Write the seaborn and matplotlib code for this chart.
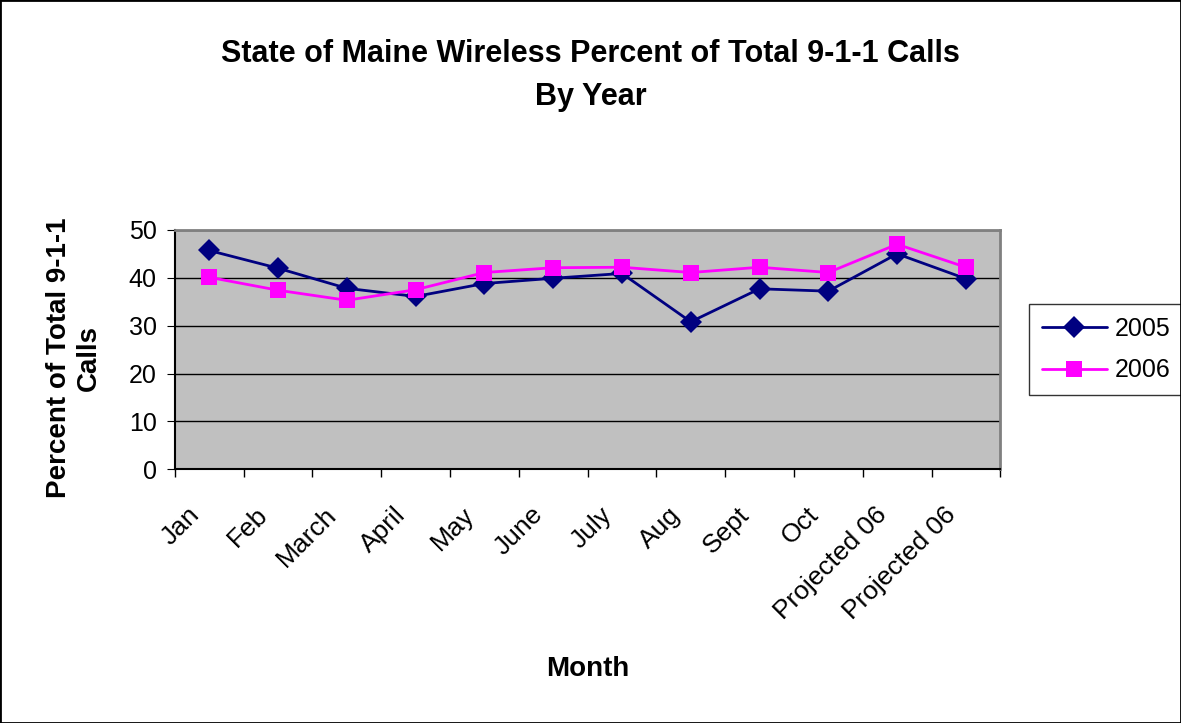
import seaborn as sns
import matplotlib.pyplot as plt
import pandas as pd
from matplotlib.patches import Rectangle
from matplotlib.transforms import ScaledTranslation

months = ['Jan', 'Feb', 'March', 'April', 'May', 'June', 'July', 'Aug',
          'Sept', 'Oct', 'Projected 06', 'Projected 06']
calls_2005 = [45.7, 42.0, 37.8, 36.1, 38.8, 39.9, 40.9, 30.8, 37.7, 37.2, 45.0, 39.8]
calls_2006 = [40.1, 37.4, 35.3, 37.5, 41.1, 42.1, 42.2, 41.1, 42.2, 41.1, 47.0, 42.2]

df = pd.DataFrame({
    'pos': list(range(len(months))) * 2,
    'value': calls_2005 + calls_2006,
    'year': ['2005'] * len(months) + ['2006'] * len(months),
})

sns.set_style('white')
plt.rcParams['font.family'] = ['Liberation Sans', 'DejaVu Sans']
plt.rcParams['text.color'] = 'black'
plt.rcParams['axes.labelcolor'] = 'black'
plt.rcParams['xtick.color'] = 'black'
plt.rcParams['ytick.color'] = 'black'

fig = plt.figure(figsize=(11.81, 7.23), dpi=100)
ax = fig.add_axes([0.148, 0.351, 0.699, 0.331])
ax.set_facecolor('#C0C0C0')

sns.lineplot(data=df, x='pos', y='value', hue='year', style='year',
             palette={'2005': '#000080', '2006': '#FF00FF'},
             markers={'2005': 'D', '2006': 's'}, dashes=False,
             markersize=11, linewidth=2, markeredgewidth=0, ax=ax)

ax.set_xlim(-0.5, len(months) - 0.5)
ax.set_ylim(0, 50)
ax.set_yticks(range(0, 51, 10))
ax.yaxis.grid(True, color='black', linewidth=1)
ax.set_axisbelow(True)

# ticks on category boundaries, labels at centers
ax.set_xticks([i - 0.5 for i in range(len(months) + 1)])
ax.set_xticklabels([])
ax.set_xticks(range(len(months)), minor=True)
ax.set_xticklabels(months, minor=True, rotation=45, ha='right',
                   rotation_mode='anchor', fontsize=19)
ax.tick_params(axis='x', which='major', direction='out', length=6, width=1, bottom=True)
ax.tick_params(axis='x', which='minor', length=0, pad=24)
ax.tick_params(axis='y', direction='out', length=6, labelsize=18, left=True, pad=7)

shift = ScaledTranslation(-16 / 72, 0, fig.dpi_scale_trans)
for lbl in ax.xaxis.get_minorticklabels():
    lbl.set_transform(lbl.get_transform() + shift)

for s in ['top', 'right']:
    ax.spines[s].set_color('#808080')
    ax.spines[s].set_linewidth(2)
for s in ['left', 'bottom']:
    ax.spines[s].set_color('black')
    ax.spines[s].set_linewidth(1.5)

ax.set_xlabel('Month', fontsize=20, fontweight='bold', va='top')
ax.xaxis.set_label_coords(0.5, -0.78)
ax.set_ylabel('Percent of Total 9-1-1\nCalls', fontsize=20, fontweight='bold')
ax.yaxis.set_label_coords(-0.088, 0.464)

fig.suptitle('State of Maine Wireless Percent of Total 9-1-1 Calls\nBy Year',
             x=0.5, y=0.946, fontsize=22, fontweight='bold', linespacing=1.55)

leg = ax.legend(title=None, loc='center left', bbox_to_anchor=(1.02, 0.5),
                fontsize=18, frameon=True, fancybox=False, edgecolor='black',
                handlelength=2.6, handletextpad=0.3, borderpad=0.5, labelspacing=0.7)
leg.get_frame().set_linewidth(1)

fig.patches.append(Rectangle((0, 0), 1, 1, transform=fig.transFigure,
                             fill=False, edgecolor='black', linewidth=2))

plt.savefig('out.png', dpi=100)
